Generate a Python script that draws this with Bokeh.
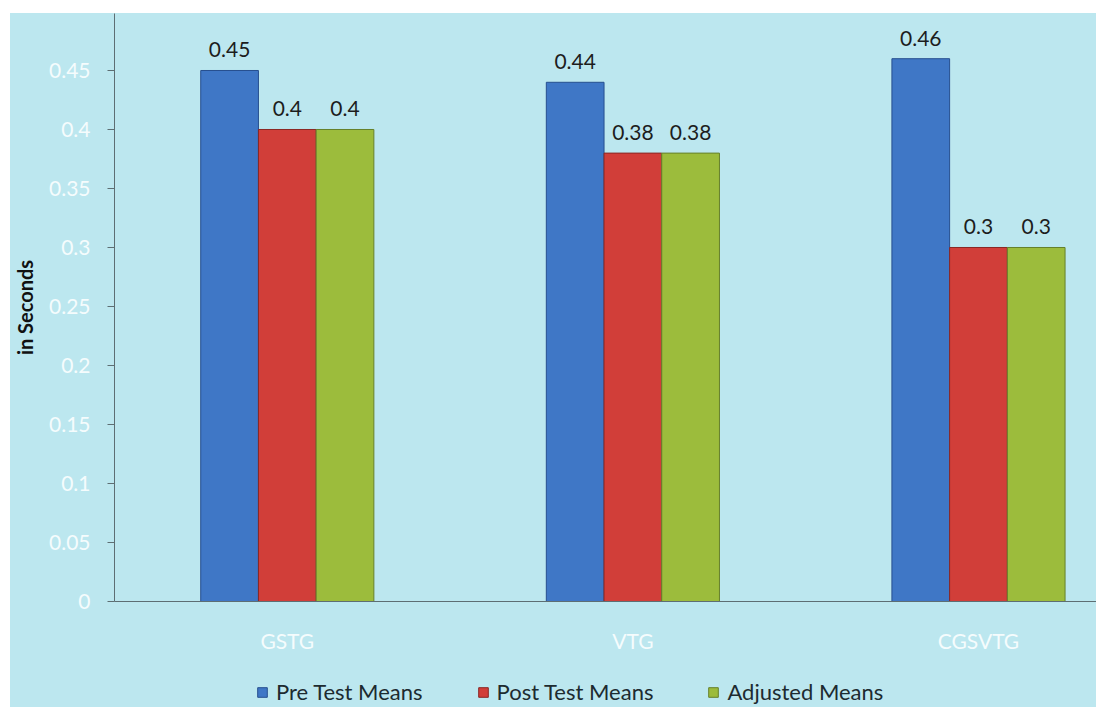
import numpy as np
from bokeh.plotting import figure
from bokeh.layouts import column
from bokeh.models import ColumnDataSource, Range1d, FixedTicker, Legend, LegendItem, LabelSet
from bokeh.core.properties import value
from bokeh.embed import file_html
from bokeh.resources import INLINE

categories = ["GSTG", "VTG", "CGSVTG"]
series_names = ["Pre Test Means", "Post Test Means", "Adjusted Means"]
pre_test = [0.45, 0.44, 0.46]
post_test = [0.40, 0.38, 0.30]
adjusted = [0.40, 0.38, 0.30]
y_ticks = [0, 0.05, 0.1, 0.15, 0.2, 0.25, 0.3, 0.35, 0.4, 0.45, 0.5]

series = [pre_test, post_test, adjusted]
fills = ["#3f77c6", "#d13e39", "#9cbc3c"]
lines = ["#274f8f", "#8a2724", "#66802a"]
offsets = [-0.167, 0.0, 0.167]
bar_w = 0.167

FONT = "Lato"
BG = "#bce7ef"

p = figure(width=1086, height=654, output_backend="svg", toolbar_location=None,
           x_range=Range1d(0, 2.8415), y_range=Range1d(0, 0.4983),
           min_border_left=100, min_border_right=0, min_border_top=0, min_border_bottom=66)
p.margin = 0
p.background_fill_alpha = 0
p.border_fill_alpha = 0
p.outline_line_color = None
p.xgrid.visible = False
p.ygrid.visible = False

# legend strip figure
leg = figure(width=1086, height=40, output_backend="svg", toolbar_location=None,
             x_range=Range1d(10, 11), y_range=Range1d(10, 11),
             min_border_left=0, min_border_right=0, min_border_top=0, min_border_bottom=0)
leg.margin = 0
leg.background_fill_alpha = 0
leg.border_fill_alpha = 0
leg.outline_line_color = None
leg.axis.visible = False
leg.grid.visible = False

centers = np.arange(len(categories)) + 0.5
leg_items = []
for vals, name, fc, lc, off in zip(series, series_names, fills, lines, offsets):
    src = ColumnDataSource(dict(x=centers + off, top=vals,
                                lbl=[("%g" % v) for v in vals]))
    p.vbar(x="x", top="top", width=bar_w, bottom=0, source=src,
           fill_color=fc, line_color=lc, line_width=1)
    r2 = leg.vbar(x="x", top="top", width=bar_w, bottom=0, source=src,
                  fill_color=fc, line_color=lc, line_width=1)
    leg_items.append(LegendItem(label=name, renderers=[r2]))
    labels = LabelSet(x="x", y="top", text="lbl", source=src, text_align="center",
                      text_baseline="bottom", y_offset=13, text_font=value(FONT),
                      text_font_size="21px", text_color="#1d1d1d")
    p.add_layout(labels)

# y axis
p.yaxis.ticker = FixedTicker(ticks=y_ticks)
p.yaxis.major_label_text_color = "#f5fcfd"
p.yaxis.major_label_text_font = FONT
p.yaxis.major_label_text_font_size = "21px"
p.yaxis.major_tick_out = 7
p.yaxis.major_tick_in = 0
p.yaxis.minor_tick_line_color = None
p.yaxis.major_label_standoff = 17
p.yaxis.axis_line_color = "#5d6e73"
p.yaxis.major_tick_line_color = "#5d6e73"
p.yaxis.axis_label = "in Seconds"
p.yaxis.axis_label_text_font = FONT
p.yaxis.axis_label_text_font_style = "bold"
p.yaxis.axis_label_text_font_size = "20px"
p.yaxis.axis_label_text_color = "#111111"
p.yaxis.axis_label_standoff = 9

# x axis
p.xaxis.ticker = FixedTicker(ticks=list(centers))
p.xaxis.major_label_overrides = {float(c): n for c, n in zip(centers, categories)}
p.xaxis.major_label_text_color = "#f5fcfd"
p.xaxis.major_label_text_font = FONT
p.xaxis.major_label_text_font_size = "21px"
p.xaxis.major_tick_line_color = None
p.xaxis.minor_tick_line_color = None
p.xaxis.major_label_standoff = 20
p.xaxis.axis_line_color = "#5d6e73"

legend = Legend(items=leg_items, orientation="horizontal", location=(142, 2),
                border_line_color=None, background_fill_alpha=0, padding=0, margin=0,
                glyph_width=12, glyph_height=12, label_standoff=8, spacing=54,
                label_text_font=FONT, label_text_font_size="22px",
                label_text_color="#1d2b30")
leg.add_layout(legend)

layout = column(p, leg, spacing=0)
layout.margin = (13, 0, 0, 10)
layout.styles = {"background-color": BG}
open("out.html", "w").write(file_html(layout, INLINE))
